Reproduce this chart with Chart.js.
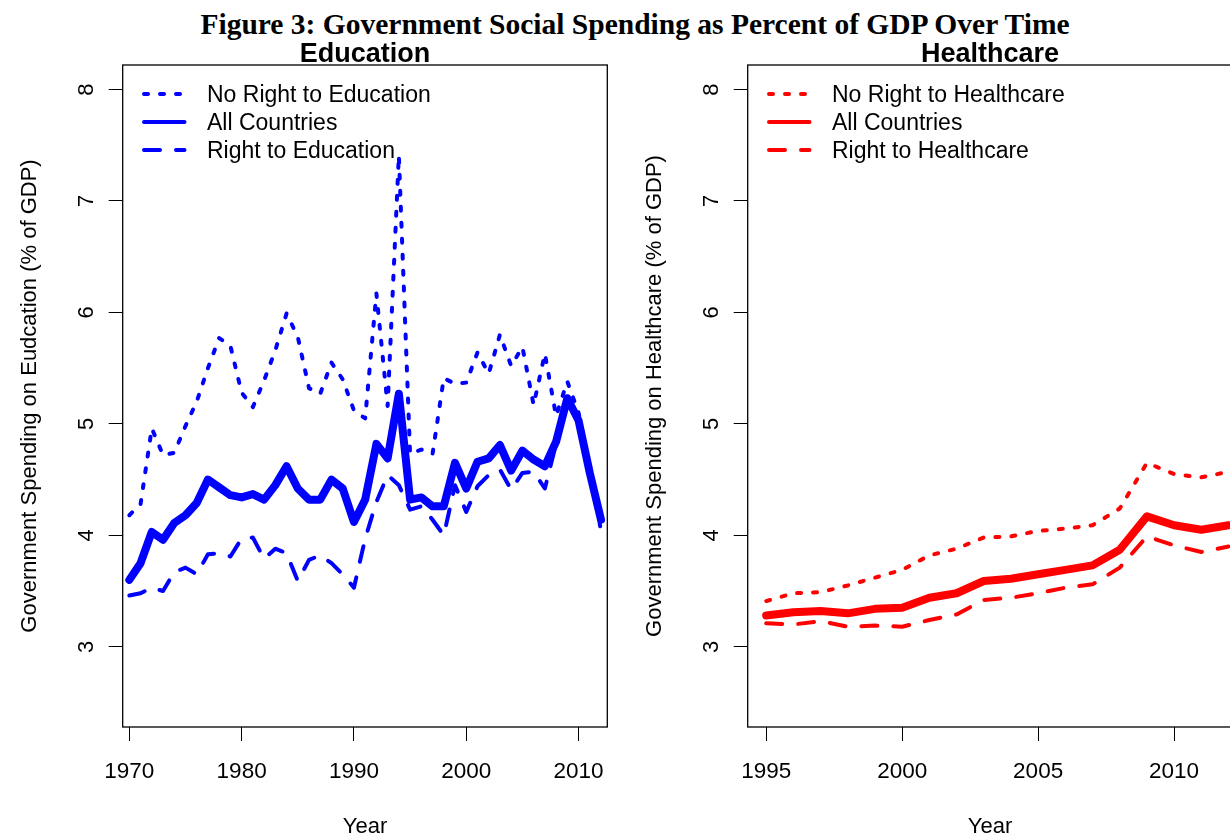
<!DOCTYPE html>
<html>
<head>
<meta charset="utf-8">
<title>Government Social Spending as Percent of GDP</title>
<script src="https://cdn.jsdelivr.net/npm/chart.js@4"></script>
<style>
  html, body { margin: 0; padding: 0; background: #fff; }
  body { width: 1230px; height: 836px; overflow: hidden; position: relative; }
  #figTitle {
    position: absolute; left: 0; top: 8px; width: 1270px;
    text-align: center; line-height: 29px;
    font: bold 29.5px "Liberation Serif", "Times New Roman", serif; color: #000;
  }
  canvas { position: absolute; top: 0; }
  #eduChart { left: 0; }
  #hcChart { left: 625px; }
</style>
</head>
<body>
<div id="figTitle">Figure 3: Government Social Spending as Percent of GDP Over Time</div>
<canvas id="eduChart" width="625" height="836"></canvas>
<canvas id="hcChart" width="625" height="836"></canvas>

<script>
// ===== DATA =====

// Education, 1970-2012 (% of GDP)
const eduYears = [
  1970, 1971, 1972, 1973, 1974, 1975, 1976, 1977, 1978, 1979,
  1980, 1981, 1982, 1983, 1984, 1985, 1986, 1987, 1988, 1989,
  1990, 1991, 1992, 1993, 1994, 1995, 1996, 1997, 1998, 1999,
  2000, 2001, 2002, 2003, 2004, 2005, 2006, 2007, 2008, 2009,
  2010, 2011, 2012
];
const eduNoRight = [
  4.18, 4.28, 4.96, 4.72, 4.74, 4.98, 5.20, 5.50, 5.77, 5.70,
  5.28, 5.15, 5.39, 5.66, 5.99, 5.78, 5.32, 5.27, 5.55, 5.40,
  5.12, 5.05, 6.17, 5.16, 7.41, 4.73, 4.77, 4.73, 5.41, 5.36,
  5.37, 5.64, 5.45, 5.80, 5.52, 5.69, 5.17, 5.63, 5.07, 5.38,
  5.10, 4.60, 4.04
];
const eduAll = [
  3.60, 3.75, 4.03, 3.96, 4.11, 4.18, 4.29, 4.50, 4.43, 4.36,
  4.34, 4.37, 4.32, 4.45, 4.62, 4.42, 4.32, 4.32, 4.50, 4.42,
  4.12, 4.32, 4.82, 4.69, 5.27, 4.32, 4.34, 4.26, 4.26, 4.65,
  4.42, 4.66, 4.69, 4.81, 4.58, 4.76, 4.68, 4.62, 4.84, 5.23,
  5.03, 4.56, 4.14
];
const eduRight = [
  3.46, 3.48, 3.53, 3.50, 3.67, 3.71, 3.65, 3.83, 3.84, 3.81,
  3.97, 3.98, 3.79, 3.88, 3.84, 3.59, 3.78, 3.82, 3.75, 3.65,
  3.53, 3.97, 4.30, 4.54, 4.45, 4.23, 4.26, 4.14, 4.00, 4.45,
  4.21, 4.44, 4.54, 4.59, 4.41, 4.56, 4.57, 4.42, 4.82, 5.24,
  5.05, 4.58, 4.16
];
const eduXTicks = [1970, 1980, 1990, 2000, 2010];

// Healthcare, 1995-2012 (% of GDP)
const hcYears = [
  1995, 1996, 1997, 1998, 1999, 2000, 2001, 2002, 2003, 2004,
  2005, 2006, 2007, 2008, 2009, 2010, 2011, 2012
];
const hcNoRight = [
  3.41, 3.48, 3.49, 3.55, 3.62, 3.69, 3.82, 3.88, 3.98, 3.99,
  4.04, 4.06, 4.09, 4.24, 4.65, 4.55, 4.52, 4.57
];
const hcAll = [
  3.28, 3.31, 3.32, 3.30, 3.34, 3.35, 3.44, 3.48, 3.59, 3.61,
  3.65, 3.69, 3.73, 3.87, 4.17, 4.09, 4.05, 4.09
];
const hcRight = [
  3.21, 3.20, 3.23, 3.18, 3.19, 3.18, 3.24, 3.29, 3.42, 3.44,
  3.48, 3.53, 3.56, 3.71, 3.99, 3.91, 3.85, 3.90
];
const hcXTicks = [1995, 2000, 2005, 2010];

const yTicks = [3, 4, 5, 6, 7, 8];

// ===== SHARED STYLE =====

Chart.defaults.font.family = '"Liberation Sans", Arial, sans-serif';
Chart.defaults.color = '#000';

const FONT = '"Liberation Sans", Arial, sans-serif';
const DOTTED = [4, 12];
const DASHED = [16, 16];

function pts(xs, ys) {
  return xs.map((x, i) => ({ x: x, y: ys[i] }));
}

function series(label, xs, ys, color, dash, width, legendWidth) {
  return {
    label: label,
    data: pts(xs, ys),
    borderColor: color,
    borderWidth: width,
    borderDash: dash,
    borderCapStyle: 'round',
    borderJoinStyle: 'round',
    pointRadius: 0,
    tension: 0,
    fill: false,
    legendWidth: legendWidth
  };
}

// box, heading, rotated y labels and the in-plot legend
const rFrame = {
  id: 'rFrame',
  afterDraw(chart, args, opts) {
    const { ctx, chartArea: a } = chart;
    const y = chart.scales.y;
    ctx.save();

    ctx.strokeStyle = '#000';
    ctx.lineWidth = 1.3;
    ctx.setLineDash([]);
    ctx.strokeRect(a.left, a.top, a.right - a.left, a.bottom - a.top);

    ctx.fillStyle = '#000';
    ctx.textAlign = 'center';
    ctx.textBaseline = 'middle';
    ctx.font = 'bold 27px ' + FONT;
    ctx.fillText(opts.heading, (a.left + a.right) / 2, 54.5);

    ctx.font = '22px ' + FONT;
    y.ticks.forEach(t => {
      ctx.save();
      ctx.translate(87, y.getPixelForValue(t.value));
      ctx.rotate(-Math.PI / 2);
      ctx.fillText(String(t.value), 0, 0);
      ctx.restore();
    });

    ctx.font = '23px ' + FONT;
    ctx.textAlign = 'left';
    chart.data.datasets.forEach((ds, row) => {
      const ly = 94 + row * 28;
      ctx.beginPath();
      ctx.strokeStyle = ds.borderColor;
      ctx.lineWidth = ds.legendWidth;
      ctx.lineCap = 'round';
      ctx.setLineDash(ds.borderDash);
      ctx.moveTo(144, ly);
      ctx.lineTo(184.5, ly);
      ctx.stroke();
      ctx.setLineDash([]);
      ctx.fillStyle = '#000';
      ctx.fillText(ds.label, 207, ly + 2);
    });

    ctx.restore();
  }
};

function makePanel(id, heading, yTitle, xMin, xMax, xTicks, datasets) {
  return new Chart(document.getElementById(id), {
    type: 'line',
    data: { datasets: datasets },
    options: {
      responsive: false,
      animation: false,
      devicePixelRatio: 1,
      layout: { padding: { left: 0, top: 65, right: 17.7, bottom: 0 } },
      plugins: {
        legend: { display: false },
        tooltip: { enabled: false },
        rFrame: { heading: heading }
      },
      scales: {
        x: {
          type: 'linear',
          min: xMin,
          max: xMax,
          afterBuildTicks: s => { s.ticks = xTicks.map(v => ({ value: v })); },
          afterFit: s => { s.height = 109; },
          ticks: {
            autoSkip: false,
            maxRotation: 0,
            padding: 17,
            color: '#000',
            font: { size: 22.5 },
            callback: v => String(v)
          },
          grid: { drawOnChartArea: false, drawTicks: true, tickLength: 14, tickColor: '#000', tickWidth: 1 },
          border: { display: false },
          title: { display: true, text: 'Year', color: '#000', font: { size: 22, lineHeight: 0.8 }, padding: { top: 0, bottom: 0 } }
        },
        y: {
          type: 'linear',
          min: 2.28,
          max: 8.22,
          afterBuildTicks: s => { s.ticks = yTicks.map(v => ({ value: v })); },
          afterFit: s => { s.width = 122.7; },
          ticks: { display: false },
          grid: { drawOnChartArea: false, drawTicks: true, tickLength: 14, tickColor: '#000', tickWidth: 1 },
          border: { display: false },
          title: { display: true, text: yTitle, color: '#000', font: { size: 22, lineHeight: 1.2 }, padding: { top: 17, bottom: 0 } }
        }
      }
    },
    plugins: [rFrame]
  });
}

// ===== PANELS =====

const BLUE = '#0000ff';
const RED = '#ff0000';

makePanel('eduChart', 'Education', 'Government Spending on Eudcation (% of GDP)',
  1969.41, 2012.56, eduXTicks, [
    series('No Right to Education', eduYears, eduNoRight, BLUE, DOTTED, 4, 4),
    series('All Countries', eduYears, eduAll, BLUE, [], 8, 4),
    series('Right to Education', eduYears, eduRight, BLUE, DASHED, 4, 4)
  ]);

makePanel('hcChart', 'Healthcare', 'Government Spending on Healthcare (% of GDP)',
  1994.32, 2012.14, hcXTicks, [
    series('No Right to Healthcare', hcYears, hcNoRight, RED, DOTTED, 4, 4),
    series('All Countries', hcYears, hcAll, RED, [], 8, 4),
    series('Right to Healthcare', hcYears, hcRight, RED, DASHED, 4, 4)
  ]);
</script>
</body>
</html>
